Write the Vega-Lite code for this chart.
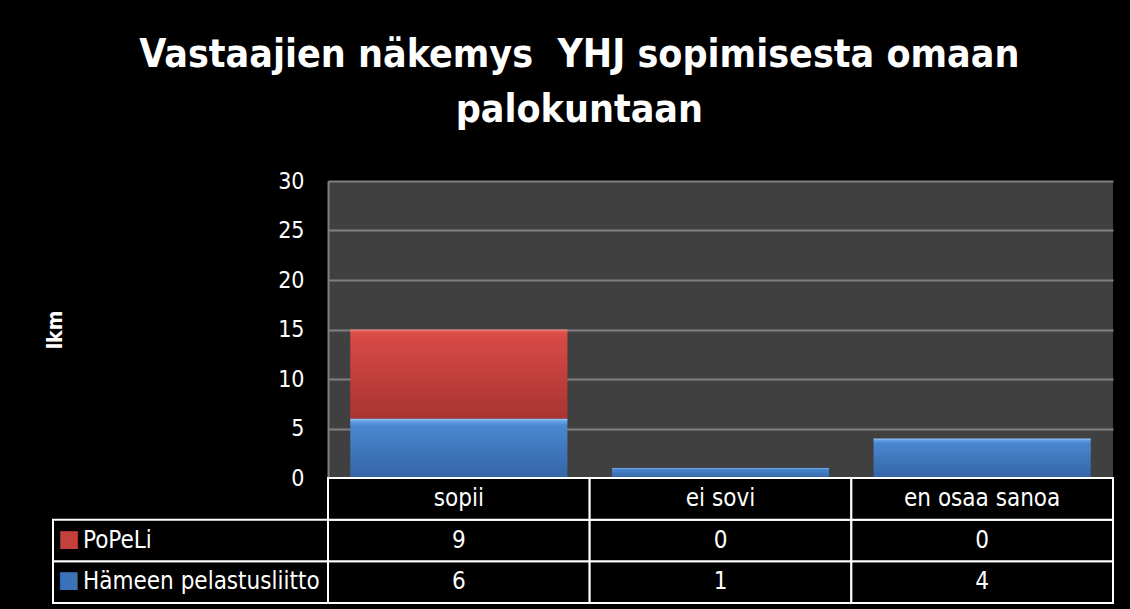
{
  "$schema": "https://vega.github.io/schema/vega-lite/v6.json",
  "background": "black",
  "padding": {"left": 44, "right": 17, "top": 36, "bottom": 6},
  "autosize": {"type": "pad"},
  "title": {
    "text": ["Vastaajien näkemys\u00a0 YHJ sopimisesta omaan", "palokuntaan"],
    "color": "white",
    "fontSize": 39,
    "fontWeight": "bold",
    "font": "DejaVu Sans Condensed, DejaVu Sans, sans-serif",
    "lineHeight": 55,
    "anchor": "middle",
    "offset": 40
  },
  "datasets": {
    "survey": [
      {"cat": "sopii", "series": "Hämeen pelastusliitto", "value": 6},
      {"cat": "sopii", "series": "PoPeLi", "value": 9},
      {"cat": "ei sovi", "series": "Hämeen pelastusliitto", "value": 1},
      {"cat": "ei sovi", "series": "PoPeLi", "value": 0},
      {"cat": "en osaa sanoa", "series": "Hämeen pelastusliitto", "value": 4},
      {"cat": "en osaa sanoa", "series": "PoPeLi", "value": 0}
    ]
  },
  "config": {
    "view": {"stroke": null},
    "font": "DejaVu Sans Condensed, DejaVu Sans, sans-serif",
    "text": {"font": "DejaVu Sans Condensed, DejaVu Sans, sans-serif"}
  },
  "columns": 2,
  "spacing": 0,
  "bounds": "flush",
  "align": "each",
  "concat": [
    {
      "width": 275,
      "height": 297,
      "data": {"values": []},
      "mark": "text",
      "encoding": {}
    },
    {
      "width": 785,
      "height": 297,
      "view": {"fill": "#404040", "stroke": null},
      "data": {"name": "survey"},
      "transform": [
        {"stack": "value", "groupby": ["cat"], "sort": [{"field": "series", "order": "ascending"}], "as": ["v0", "v1"]}
      ],
      "encoding": {
        "x": {
          "field": "cat",
          "type": "nominal",
          "sort": ["sopii", "ei sovi", "en osaa sanoa"],
          "scale": {"paddingInner": 0.17, "paddingOuter": 0.085},
          "axis": null
        },
        "y": {
          "field": "v1",
          "type": "quantitative",
          "scale": {"domain": [0, 30], "nice": false},
          "axis": {
            "title": "lkm",
            "titleColor": "white",
            "titleFontSize": 21,
            "titleFontWeight": "bold",
            "titlePadding": 212,
            "values": [0, 5, 10, 15, 20, 25, 30],
            "labelColor": "white",
            "labelFontSize": 23,
            "labelPadding": 24,
            "ticks": false,
            "domain": true,
            "domainColor": "#808080",
            "domainWidth": 2,
            "grid": true,
            "gridColor": "#808080",
            "gridWidth": 2
          }
        },
        "y2": {"field": "v0"}
      },
      "layer": [
        {
          "transform": [{"filter": "datum.series === 'Hämeen pelastusliitto'"}],
          "mark": {
            "type": "bar",
            "color": {
              "gradient": "linear",
              "x1": 0, "y1": 0, "x2": 0, "y2": 1,
              "stops": [
                {"offset": 0, "color": "#9ccdfa"},
                {"offset": 0.05, "color": "#5f9fe3"},
                {"offset": 0.12, "color": "#4a87d0"},
                {"offset": 1, "color": "#3464a6"}
              ]
            }
          }
        },
        {
          "transform": [{"filter": "datum.series === 'PoPeLi' && datum.value > 0"}],
          "mark": {
            "type": "bar",
            "color": {
              "gradient": "linear",
              "x1": 0, "y1": 0, "x2": 0, "y2": 1,
              "stops": [
                {"offset": 0, "color": "#f28b85"},
                {"offset": 0.03, "color": "#de4f4a"},
                {"offset": 0.1, "color": "#d64945"},
                {"offset": 1, "color": "#a93431"}
              ]
            }
          }
        }
      ]
    },
    {
      "width": 275,
      "height": 125,
      "data": {"name": "survey"},
      "transform": [
        {"aggregate": [{"op": "sum", "field": "value", "as": "total"}], "groupby": ["series"]}
      ],
      "encoding": {
        "y": {
          "field": "series",
          "type": "nominal",
          "scale": {"domain": ["luokka", "PoPeLi", "Hämeen pelastusliitto"], "paddingInner": 0, "paddingOuter": 0},
          "axis": null
        }
      },
      "layer": [
        {"mark": {"type": "rect", "fill": "black", "stroke": "white", "strokeWidth": 2}},
        {
          "mark": {"type": "text", "text": "■", "align": "left", "dx": 5, "dy": -2, "fontSize": 23, "font": "DejaVu Sans"},
          "encoding": {
            "x": {"datum": 0, "type": "quantitative", "scale": {"domain": [0, 1]}, "axis": null},
            "color": {
              "field": "series",
              "type": "nominal",
              "scale": {"domain": ["PoPeLi", "Hämeen pelastusliitto"], "range": ["#c4403c", "#3b72ba"]},
              "legend": null
            }
          }
        },
        {
          "mark": {"type": "text", "align": "left", "dx": 30, "fontSize": 24, "color": "white"},
          "encoding": {
            "x": {"datum": 0, "type": "quantitative", "scale": {"domain": [0, 1]}, "axis": null},
            "text": {"field": "series"}
          }
        }
      ]
    },
    {
      "width": 785,
      "height": 125,
      "data": {"name": "survey"},
      "encoding": {
        "x": {
          "field": "cat",
          "type": "nominal",
          "sort": ["sopii", "ei sovi", "en osaa sanoa"],
          "scale": {"paddingInner": 0, "paddingOuter": 0},
          "axis": null
        }
      },
      "layer": [
        {
          "mark": {"type": "rect", "fill": "black", "stroke": "white", "strokeWidth": 2},
          "encoding": {
            "y": {"field": "series", "type": "nominal", "scale": {"domain": ["luokka", "PoPeLi", "Hämeen pelastusliitto"], "paddingInner": 0, "paddingOuter": 0}, "axis": null}
          }
        },
        {
          "mark": {"type": "text", "fontSize": 24, "color": "white"},
          "encoding": {
            "y": {"field": "series", "type": "nominal", "axis": null},
            "text": {"field": "value", "type": "quantitative"}
          }
        },
        {
          "transform": [{"aggregate": [{"op": "sum", "field": "value", "as": "total"}], "groupby": ["cat"]}],
          "mark": {"type": "rect", "fill": "black", "stroke": "white", "strokeWidth": 2},
          "encoding": {
            "y": {"datum": "luokka", "type": "nominal", "axis": null}
          }
        },
        {
          "transform": [{"aggregate": [{"op": "sum", "field": "value", "as": "total"}], "groupby": ["cat"]}],
          "mark": {"type": "text", "fontSize": 24, "color": "white"},
          "encoding": {
            "y": {"datum": "luokka", "type": "nominal", "axis": null},
            "text": {"field": "cat"}
          }
        }
      ]
    }
  ]
}
